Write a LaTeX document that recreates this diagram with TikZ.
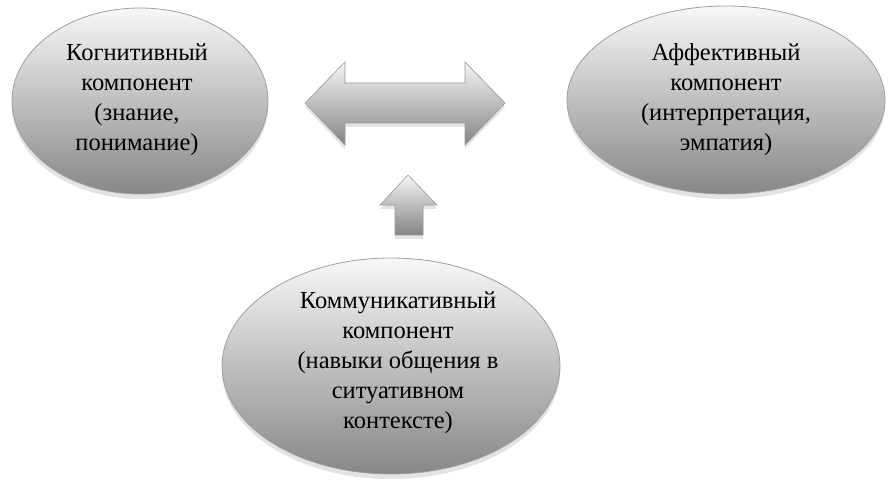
\documentclass[tikz,border=0pt]{standalone}
\usepackage{fontspec}
\setmainfont{Liberation Serif}
\usetikzlibrary{shapes.geometric,shadows}
\begin{document}
\begin{tikzpicture}[x=1pt,y=-1pt,
  comp/.style={ellipse, draw=black!38, line width=0.8pt, top color=black!3, bottom color=black!47,
    inner sep=0pt, drop shadow={shadow xshift=0pt, shadow yshift=-5pt, opacity=0.22, fill=black!50}},
  txt/.style={align=center, inner sep=0pt, font=\fontsize{24.5}{30}\selectfont},
  arr/.style={draw=black!40, line width=0.6pt, top color=black!4, bottom color=black!48,
    drop shadow={shadow xshift=0pt, shadow yshift=-4pt, opacity=0.22, fill=black!50}}]
\useasboundingbox (0,0) rectangle (889,486);
% ellipses
\node[comp, minimum width=256pt, minimum height=186pt] (kog) at (140,101) {};
\node[txt] (kogt) at (137,100) {Когнитивный\\компонент\\(знание,\\понимание)};
\node[comp, minimum width=318pt, minimum height=188pt] (aff) at (726,100) {};
\node[txt] (afft) at (726,100) {Аффективный\\компонент\\(интерпретация,\\эмпатия)};
\node[comp, minimum width=338pt, minimum height=216pt] (kom) at (391,366) {};
\node[txt] (komt) at (398,363) {Коммуникативный\\компонент\\(навыки общения в\\ситуативном\\контексте)};
% double arrow
\path[arr] (305,103) -- (345,62) -- (345,83) -- (465,83) -- (465,62) -- (505,103)
  -- (465,145) -- (465,123) -- (345,123) -- (345,145) -- cycle;
% up arrow
\path[arr] (408,175) -- (437,205) -- (423,205) -- (423,235) -- (395,235) -- (395,205)
  -- (380,205) -- cycle;
\end{tikzpicture}
\end{document}
